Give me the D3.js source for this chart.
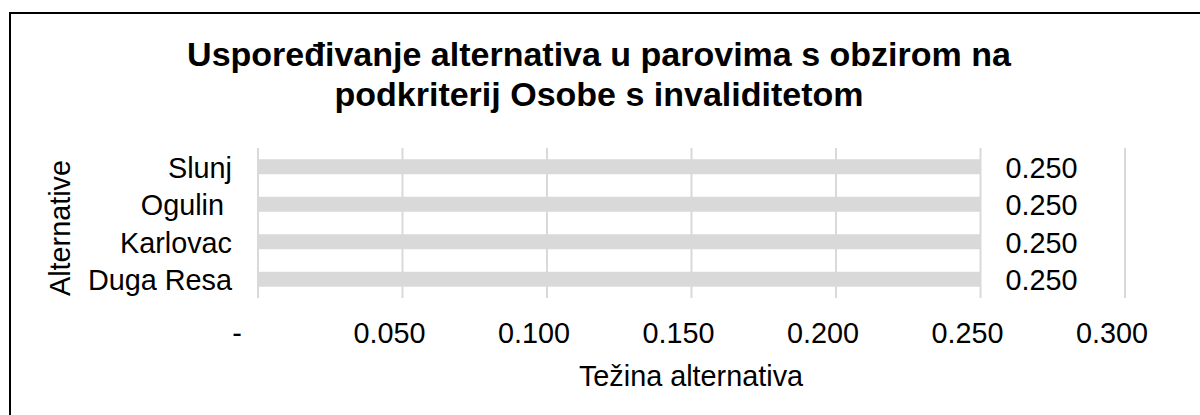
<!DOCTYPE html>
<html>
<head>
<meta charset="utf-8">
<script src="https://cdn.jsdelivr.net/npm/d3@7/dist/d3.min.js"></script>
<style>
  body { margin: 0; background: #fff; }
  svg { display: block; font-family: "Liberation Sans", Arial, sans-serif; }
</style>
</head>
<body>
<div id="chart"></div>
<script>
// Chart data
var categories = ['Duga Resa', 'Karlovac', 'Ogulin ', 'Slunj'];
var values = [0.25, 0.25, 0.25, 0.25];
var xTicks = [0, 0.05, 0.1, 0.15, 0.2, 0.25, 0.3];
var titleLines = ['Uspoređivanje alternativa u parovima s obzirom na', 'podkriterij Osobe s invaliditetom'];

var width = 1200, height = 415;
var plot = {left: 258, right: 1125, top: 148, bottom: 298};
var labelSize = '28.8px';

var svg = d3.select('#chart').append('svg')
    .attr('width', width).attr('height', height);

// Outer frame (runs off the right and bottom edges)
svg.append('rect')
    .attr('x', 10).attr('y', 13)
    .attr('width', 1200).attr('height', 420)
    .attr('fill', '#fff').attr('stroke', '#000').attr('stroke-width', 2);

var x = d3.scaleLinear().domain([0, 0.3]).range([plot.left, plot.right]);
var y = d3.scaleBand().domain(categories.slice().reverse())
    .range([plot.top, plot.bottom]).paddingInner(0.6).paddingOuter(0.3);

// Title
svg.append('text')
    .attr('x', 599).attr('y', 66)
    .attr('text-anchor', 'middle')
    .style('font-size', '34px').style('font-weight', 'bold')
    .selectAll('tspan').data(titleLines).enter().append('tspan')
    .attr('x', 599).attr('dy', function(d, i) { return i === 0 ? 0 : 40; })
    .text(function(d) { return d; });

// Vertical gridlines
svg.append('g').selectAll('line').data(xTicks).enter().append('line')
    .attr('x1', function(d) { return x(d); }).attr('x2', function(d) { return x(d); })
    .attr('y1', plot.top).attr('y2', plot.bottom)
    .attr('stroke', '#d9d9d9').attr('stroke-width', 2);

// Bars
svg.append('g').selectAll('rect').data(categories).enter().append('rect')
    .attr('x', x(0))
    .attr('y', function(d) { return y(d); })
    .attr('width', function(d, i) { return x(values[i]) - x(0); })
    .attr('height', y.bandwidth())
    .attr('fill', '#d9d9d9');

// Value labels
svg.append('g').selectAll('text').data(categories).enter().append('text')
    .attr('x', function(d, i) { return x(values[i]) + 25; })
    .attr('y', function(d) { return y(d) + y.bandwidth() / 2 + 11; })
    .style('font-size', labelSize).attr('fill', '#000')
    .text(function(d, i) { return values[i].toFixed(3); });

// Category labels
svg.append('g').selectAll('text').data(categories).enter().append('text')
    .attr('x', 232)
    .attr('y', function(d) { return y(d) + y.bandwidth() / 2 + 11; })
    .attr('text-anchor', 'end')
    .attr('xml:space', 'preserve').style('white-space', 'pre')
    .style('font-size', labelSize)
    .text(function(d) { return d; });

// X tick labels (accounting style: zero shown as "-")
svg.append('g').selectAll('text').data(xTicks).enter().append('text')
    .attr('x', function(d) { return x(d) - (d === 0 ? 21 : 13); })
    .attr('y', 343)
    .attr('text-anchor', 'middle')
    .style('font-size', labelSize)
    .text(function(d) { return d === 0 ? '-' : d.toFixed(3); });

// Axis titles
svg.append('text')
    .attr('x', 691).attr('y', 386)
    .attr('text-anchor', 'middle')
    .style('font-size', labelSize)
    .text('Težina alternativa');

svg.append('text')
    .attr('transform', 'translate(70,228) rotate(-90)')
    .attr('text-anchor', 'middle')
    .style('font-size', labelSize)
    .text('Alternative');
</script>
</body>
</html>
